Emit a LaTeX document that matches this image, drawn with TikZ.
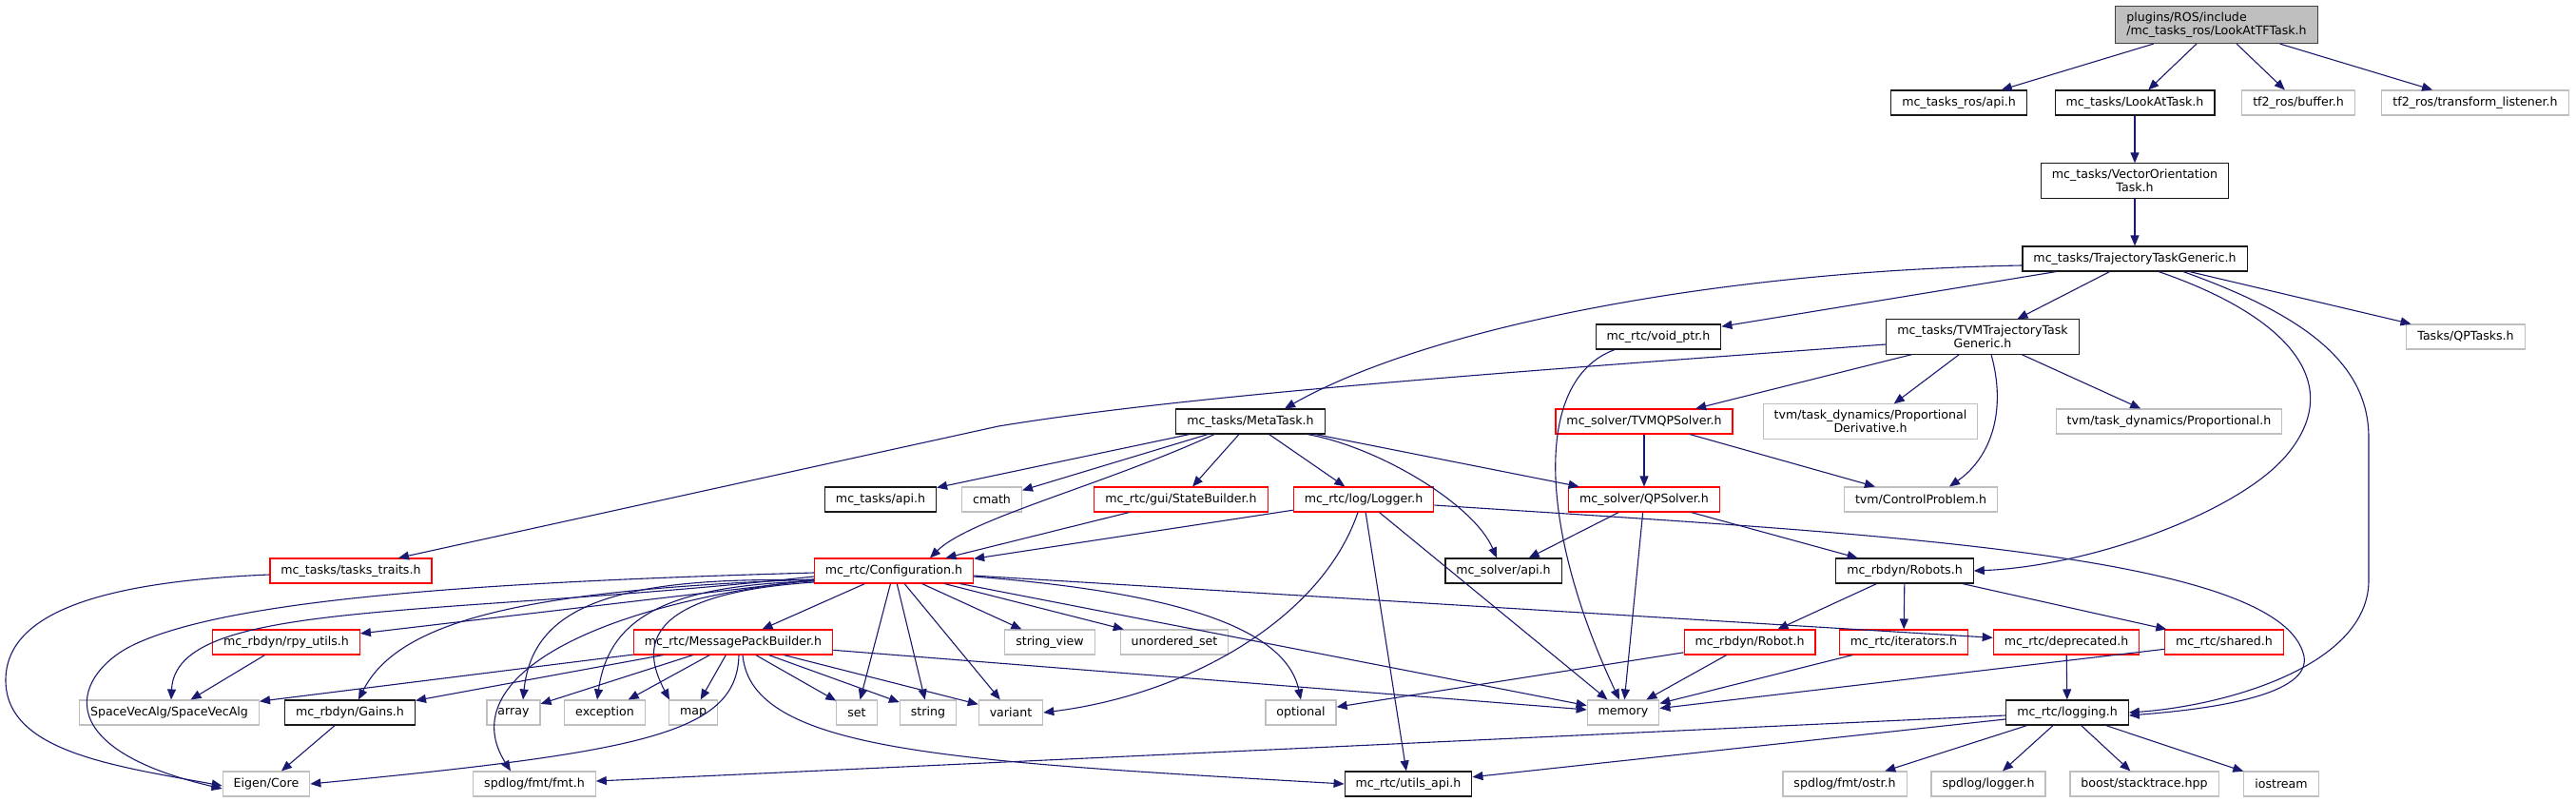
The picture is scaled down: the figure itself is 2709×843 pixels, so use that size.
\documentclass[tikz,border=0pt]{standalone}
\usepackage{fontspec}
\setmainfont{DejaVu Sans}
\usetikzlibrary{arrows.meta}
\definecolor{dedge}{HTML}{191970}
\definecolor{dgray}{HTML}{BFBFBF}
\tikzset{
  fbox/.style={draw, fill=white, line width=1.1pt, inner xsep=11.5pt, inner ysep=6pt,
               minimum height=26pt, align=center, font=\fontsize{12.6}{14.5}\selectfont},
  kbox/.style={fbox, draw=black!90},
  rbox/.style={fbox, draw=red},
  gbox/.style={fbox, draw=dgray},
  rootbox/.style={fbox, draw=black!75, fill=dgray, align=left},
}

\begin{document}
\begin{tikzpicture}[x=1pt, y=-1pt,
    dep/.style={-{Triangle[length=11pt,width=9pt]}, line width=1.1pt, dedge}]
  \useasboundingbox (0,0) rectangle (2709,843);

  \node[rootbox] (root) at (2331,26) {plugins/ROS/include\\/mc\_tasks\_ros/LookAtTFTask.h};
  \node[kbox] (trosapi) at (2060,108) {mc\_tasks\_ros/api.h};
  \node[kbox] (lookat) at (2245,108) {mc\_tasks/LookAtTask.h};
  \node[gbox] (tf2buf) at (2417,108) {tf2\_ros/buffer.h};
  \node[gbox] (tf2tl) at (2603,108) {tf2\_ros/transform\_listener.h};
  \node[kbox] (vecori) at (2245,190) {mc\_tasks/VectorOrientation\\Task.h};
  \node[kbox] (ttg) at (2245,272) {mc\_tasks/TrajectoryTaskGeneric.h};

  \node[kbox] (voidptr) at (1744,354) {mc\_rtc/void\_ptr.h};
  \node[kbox] (tvmttg) at (2085,354) {mc\_tasks/TVMTrajectoryTask\\Generic.h};
  \node[gbox] (qptasks) at (2593,354) {Tasks/QPTasks.h};

  \node[kbox] (metatask) at (1315,443) {mc\_tasks/MetaTask.h};
  \node[rbox] (tvmqp) at (1729,443) {mc\_solver/TVMQPSolver.h};
  \node[gbox] (propderiv) at (1967,443) {tvm/task\_dynamics/Proportional\\Derivative.h};
  \node[gbox] (prop) at (2281,443) {tvm/task\_dynamics/Proportional.h};

  \node[kbox] (tasksapi) at (926,525) {mc\_tasks/api.h};
  \node[gbox] (cmath) at (1043,525) {cmath};
  \node[rbox] (statebuilder) at (1242,525) {mc\_rtc/gui/StateBuilder.h};
  \node[rbox] (logger) at (1434,525) {mc\_rtc/log/Logger.h};
  \node[rbox] (qpsolver) at (1729,525) {mc\_solver/QPSolver.h};
  \node[gbox] (ctrlprob) at (2020,525) {tvm/ControlProblem.h};

  \node[rbox] (taskstraits) at (369,600) {mc\_tasks/tasks\_traits.h};
  \node[rbox] (config) at (940,600) {mc\_rtc/Configuration.h};
  \node[kbox] (solverapi) at (1581,600) {mc\_solver/api.h};
  \node[kbox] (robots) at (2003,600) {mc\_rbdyn/Robots.h};

  \node[rbox] (rpy) at (301,675) {mc\_rbdyn/rpy\_utils.h};
  \node[rbox] (msgpack) at (771,675) {mc\_rtc/MessagePackBuilder.h};
  \node[gbox] (stringview) at (1104,675) {string\_view};
  \node[gbox] (unorderedset) at (1235,675) {unordered\_set};
  \node[rbox] (robot) at (1840,675) {mc\_rbdyn/Robot.h};
  \node[rbox] (iterators) at (2002,675) {mc\_rtc/iterators.h};
  \node[rbox] (deprecated) at (2173,675) {mc\_rtc/deprecated.h};
  \node[rbox] (shared) at (2339,675) {mc\_rtc/shared.h};

  \node[gbox] (sva) at (178,749) {SpaceVecAlg/SpaceVecAlg};
  \node[kbox] (gains) at (368,749) {mc\_rbdyn/Gains.h};
  \node[gbox] (array) at (540,749) {array};
  \node[gbox] (exception) at (636,749) {exception};
  \node[gbox] (map) at (729,749) {map};
  \node[gbox] (set) at (901,749) {set};
  \node[gbox] (string) at (976,749) {string};
  \node[gbox] (variant) at (1063,749) {variant};
  \node[gbox] (optional) at (1368,749) {optional};
  \node[gbox] (memory) at (1707,749) {memory};
  \node[kbox] (logging) at (2174,749) {mc\_rtc/logging.h};

  \node[gbox] (eigen) at (280,824) {Eigen/Core};
  \node[gbox] (fmt) at (562,824) {spdlog/fmt/fmt.h};
  \node[kbox] (utilsapi) at (1481,824) {mc\_rtc/utils\_api.h};
  \node[gbox] (ostr) at (1940,824) {spdlog/fmt/ostr.h};
  \node[gbox] (spdlogger) at (2091,824) {spdlog/logger.h};
  \node[gbox] (stacktrace) at (2255,824) {boost/stacktrace.hpp};
  \node[gbox] (iostream) at (2399,824) {iostream};

  \foreach \a/\b in {root/trosapi, root/lookat, root/tf2buf, root/tf2tl, lookat/vecori,
      vecori/ttg, ttg/voidptr, ttg/tvmttg, ttg/qptasks, tvmttg/tvmqp, tvmttg/propderiv,
      tvmttg/prop, metatask/tasksapi, metatask/cmath, metatask/statebuilder,
      metatask/logger, metatask/qpsolver, tvmqp/qpsolver, tvmqp/ctrlprob,
      statebuilder/config, logger/config, logger/utilsapi, logger/memory,
      qpsolver/solverapi, qpsolver/memory, qpsolver/robots, config/rpy, config/msgpack,
      config/set, config/string, config/variant, config/stringview, config/unorderedset,
      config/memory, config/deprecated, robots/robot, robots/iterators, robots/shared,
      rpy/sva, gains/eigen, msgpack/sva, msgpack/gains, msgpack/array, msgpack/exception,
      msgpack/map, msgpack/set, msgpack/string, msgpack/variant, msgpack/memory,
      robot/optional, robot/memory, iterators/memory, shared/memory, deprecated/logging,
      logging/fmt, logging/utilsapi, logging/ostr, logging/spdlogger,
      logging/stacktrace, logging/iostream}
    \draw[dep] (\a) -- (\b);

  \draw[dep] ([yshift=-7pt]ttg.west) .. controls (1800,285) and (1500,345) .. ([xshift=36pt]metatask.north);
  \draw[dep] ([xshift=25pt]ttg.south) .. controls (2400,330) and (2470,400) .. (2405,478)
    .. controls (2355,538) and (2200,595) .. (robots.east);
  \draw[dep] ([xshift=51pt]ttg.south) .. controls (2420,330) and (2491,380) .. (2491,460)
    -- (2491,610) .. controls (2491,700) and (2340,742) .. (logging.east);
  \draw[dep] ([yshift=-6pt]logger.east) .. controls (1950,560) and (2400,580) .. (2423,690)
    .. controls (2430,730) and (2330,745) .. ([yshift=-3pt]logging.east);
  \draw[dep] ([yshift=-8pt]tvmttg.west) .. controls (1600,390) and (1250,415) .. (1050,448)
    -- ([xshift=50pt]taskstraits.north);
  \draw[dep] ([yshift=-4pt]taskstraits.west) .. controls (90,612) and (6,650) .. (6,715)
    .. controls (6,790) and (120,805) .. ([yshift=-2pt]eigen.west);
  \draw[dep] ([yshift=-2pt]config.west) .. controls (500,612) and (240,630) .. (140,678)
    .. controls (80,707) and (45,785) .. ([yshift=-5pt]eigen.west);
  \draw[dep] ([yshift=-6pt]config.west) .. controls (450,650) and (185,630) .. ([xshift=2pt]sva.north);
  \draw[dep] ([yshift=-9pt]config.west) .. controls (560,620) and (420,650) .. ([xshift=9pt]gains.north);
  \draw[dep] ([yshift=-9pt]config.west) .. controls (600,640) and (480,720) .. ([xshift=-25pt]fmt.north);
  \draw[dep] ([yshift=-10pt]config.west) .. controls (640,605) and (560,640) .. ([xshift=10pt]array.north);
  \draw[dep] ([yshift=-11pt]config.west) .. controls (700,615) and (640,650) .. ([xshift=-8pt]exception.north);
  \draw[dep] ([yshift=-12pt]config.west) .. controls (660,625) and (680,690) .. ([xshift=-25pt]map.north);
  \draw[dep] ([yshift=-6pt]config.east) .. controls (1200,620) and (1350,650) .. (optional.north);
  \draw[dep] ([xshift=-38pt]metatask.south) .. controls (1160,510) and (1020,545) .. ([xshift=38pt]config.north);
  \draw[dep] ([xshift=60pt]metatask.south) .. controls (1450,470) and (1550,530) .. ([xshift=-7pt]solverapi.north);
  \draw[dep] ([xshift=-46pt]voidptr.south) .. controls (1610,400) and (1620,560) .. ([xshift=-4pt]memory.north);
  \draw[dep] ([xshift=9pt]tvmttg.south) .. controls (2110,430) and (2095,480) .. ([xshift=30pt]ctrlprob.north);
  \draw[dep] ([xshift=-6pt]logger.south) .. controls (1390,650) and (1250,730) .. (variant.east);
  \draw[dep] ([xshift=6pt]msgpack.south) .. controls (775,770) and (680,790) .. (eigen.east);
  \draw[dep] ([xshift=10pt]msgpack.south) .. controls (790,790) and (1000,800) .. (utilsapi.west);
\end{tikzpicture}
\end{document}
